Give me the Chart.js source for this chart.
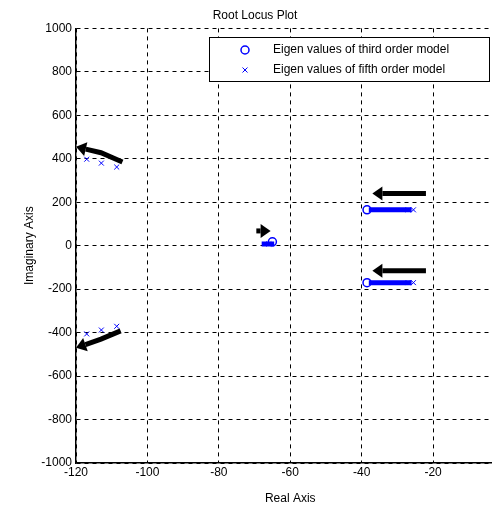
<!DOCTYPE html>
<html>
<head>
<meta charset="utf-8">
<title>Root Locus Plot</title>
<script src="https://cdn.jsdelivr.net/npm/chart.js@4/dist/chart.umd.min.js"></script>
<style>
    html, body { margin: 0; padding: 0; background: #fff; overflow: hidden; }
    #wrap { width: 510px; height: 510px; }
</style>
</head>
<body>
<div id="wrap"><canvas id="rootLocus" width="510" height="510"></canvas></div>
<script>
// Axis ticks
const xTicks = [-120, -100, -80, -60, -40, -20, 0];
const yTicks = [-1000, -800, -600, -400, -200, 0, 200, 400, 600, 800, 1000];

// Eigen values of third order model (circles)
const thirdReal = [-38.5, -38.5, -65];
const thirdImag = [165, -170, 18];

// Eigen values of fifth order model (crosses)
const fifthReal = [-117, -112.9, -108.6, -117, -112.9, -108.6, -27, -25.5, -27, -25.5, -66];
const fifthImag = [398, 380, 362, -406, -388, -371, 165, 165, -170, -170, 8];

// Thick blue locus traces [x1, y1, x2, y2]
const traces = [
    [-38, 165, -26, 165],
    [-38, -170, -26, -170],
    [-68, 8, -64.5, 8]
];

// Black direction arrows: list of points, last one is the head
const arrows = [
    [[-107, 385], [-113, 428], [-120, 455]],
    [[-107.5, -392], [-113, -430], [-120, -470]],
    [[-22, 240], [-37, 240]],
    [[-22, -115], [-37, -115]],
    [[-69.5, 68], [-65.5, 68]]
];

const FONT = '"Liberation Sans", Arial, sans-serif';

function toPoints(xs, ys) {
    return xs.map((x, i) => ({ x: x, y: ys[i] }));
}

const arrowPlugin = {
    id: 'arrows',
    afterDatasetsDraw(chart) {
        const { ctx, scales: { x, y } } = chart;
        ctx.save();
        ctx.strokeStyle = '#000';
        ctx.fillStyle = '#000';
        ctx.lineWidth = 5;
        ctx.lineCap = 'butt';
        arrows.forEach(pts => {
            const p = pts.map(([a, b]) => [x.getPixelForValue(a), y.getPixelForValue(b)]);
            const head = p[p.length - 1];
            const prev = p[p.length - 2];
            const ang = Math.atan2(head[1] - prev[1], head[0] - prev[0]);
            const hl = 10, hw = 7;
            const base = [head[0] - hl * Math.cos(ang), head[1] - hl * Math.sin(ang)];
            ctx.beginPath();
            ctx.moveTo(p[0][0], p[0][1]);
            for (let i = 1; i < p.length - 1; i++) ctx.lineTo(p[i][0], p[i][1]);
            ctx.lineTo(base[0], base[1]);
            ctx.stroke();
            ctx.beginPath();
            ctx.moveTo(head[0], head[1]);
            ctx.lineTo(base[0] - hw * Math.sin(ang), base[1] + hw * Math.cos(ang));
            ctx.lineTo(base[0] + hw * Math.sin(ang), base[1] - hw * Math.cos(ang));
            ctx.closePath();
            ctx.fill();
        });
        ctx.restore();
    }
};

const legendPlugin = {
    id: 'boxLegend',
    afterDraw(chart) {
        const { ctx } = chart;
        const left = 209, top = 37, right = 489, bottom = 81;
        ctx.save();
        ctx.fillStyle = '#fff';
        ctx.fillRect(left, top, right - left, bottom - top);
        ctx.strokeStyle = '#000';
        ctx.lineWidth = 1;
        ctx.strokeRect(left + 0.5, top + 0.5, right - left, bottom - top);
        ctx.strokeStyle = '#0000ff';
        ctx.lineWidth = 1.5;
        ctx.beginPath();
        ctx.arc(245, 50, 4, 0, Math.PI * 2);
        ctx.stroke();
        ctx.lineWidth = 1;
        ctx.beginPath();
        ctx.moveTo(242.5, 67.5); ctx.lineTo(247.5, 72.5);
        ctx.moveTo(247.5, 67.5); ctx.lineTo(242.5, 72.5);
        ctx.stroke();
        ctx.fillStyle = '#000';
        ctx.font = '12px ' + FONT;
        ctx.textBaseline = 'middle';
        ctx.fillText(chart.data.datasets[0].label, 273, 50);
        ctx.fillText(chart.data.datasets[1].label, 273, 70);
        ctx.restore();
    }
};

const traceSets = traces.map(t => ({
    type: 'line',
    data: [{ x: t[0], y: t[1] }, { x: t[2], y: t[3] }],
    borderColor: '#0000ff',
    borderWidth: 5,
    pointRadius: 0,
    showLine: true,
    order: 3
}));

new Chart(document.getElementById('rootLocus'), {
    type: 'scatter',
    data: {
        datasets: [{
            label: 'Eigen values of third order model',
            data: toPoints(thirdReal, thirdImag),
            pointStyle: 'circle',
            pointRadius: 4,
            borderColor: '#0000ff',
            backgroundColor: 'rgba(0,0,0,0)',
            borderWidth: 1.5,
            order: 1
        }, {
            label: 'Eigen values of fifth order model',
            data: toPoints(fifthReal, fifthImag),
            pointStyle: 'crossRot',
            pointRadius: 3.5,
            borderColor: '#0000ff',
            borderWidth: 1,
            order: 2
        }, ...traceSets]
    },
    options: {
        responsive: false,
        animation: false,
        layout: { padding: { top: 0, right: 0, bottom: 0, left: 0 } },
        plugins: {
            legend: { display: false },
            tooltip: { enabled: false },
            title: {
                display: true,
                text: 'Root Locus Plot',
                color: '#000',
                font: { family: FONT, size: 12, weight: 'normal' },
                padding: { top: 8, bottom: 6 }
            }
        },
        scales: {
            x: {
                type: 'linear',
                min: -120,
                max: 0,
                afterBuildTicks: s => { s.ticks = xTicks.map(v => ({ value: v })); },
                afterFit: s => { s.height = 47; },
                title: {
                    display: true,
                    text: 'Real Axis',
                    color: '#000',
                    font: { family: FONT, size: 12 },
                    padding: { top: 4 }
                },
                ticks: {
                    color: '#000',
                    font: { family: FONT, size: 12 },
                    padding: 2,
                    maxRotation: 0,
                    callback: v => String(v)
                },
                grid: { color: '#000', lineWidth: 1, drawTicks: false },
                border: { display: true, color: '#000', width: 1.5, dash: [4, 4] }
            },
            y: {
                type: 'linear',
                min: -1000,
                max: 1000,
                afterBuildTicks: s => { s.ticks = yTicks.map(v => ({ value: v })); },
                afterFit: s => { s.width = 76; },
                title: {
                    display: true,
                    text: 'Imaginary Axis',
                    color: '#000',
                    font: { family: FONT, size: 12 },
                    padding: { top: 22, bottom: 0 }
                },
                ticks: {
                    color: '#000',
                    font: { family: FONT, size: 12 },
                    padding: 4,
                    callback: v => String(v)
                },
                grid: { color: '#000', lineWidth: 1, drawTicks: false },
                border: { display: true, color: '#000', width: 1.5, dash: [4, 4] }
            }
        }
    },
    plugins: [arrowPlugin, legendPlugin]
});
</script>
</body>
</html>
